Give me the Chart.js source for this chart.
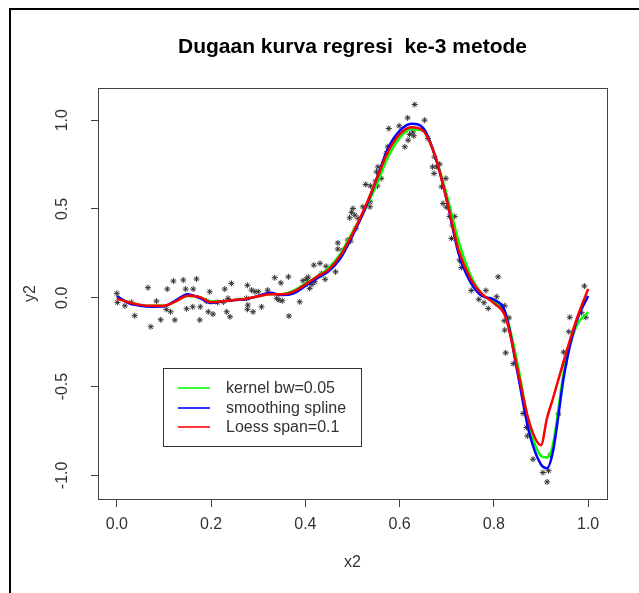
<!DOCTYPE html>
<html><head><meta charset="utf-8">
<script src="https://cdn.jsdelivr.net/npm/chart.js@4"></script>
<style>
html,body{margin:0;padding:0;background:#fff;}
#wrap{position:relative;width:639px;height:593px;overflow:hidden;background:#fff;}
#frame{position:absolute;left:9px;top:8px;width:700px;height:700px;border-left:2px solid #000;border-top:2px solid #000;}
canvas{position:absolute;left:0;top:0;}
</style></head><body>
<div id="wrap"><div id="frame"></div><canvas id="c" width="639" height="593"></canvas></div>
<script>
const titleText = 'Dugaan kurva regresi  ke-3 metode';
const xTicks = [0, 0.2, 0.4, 0.6, 0.8, 1.0];
const yTicks = [-1, -0.5, 0, 0.5, 1];
const xLabel = 'x2';
const yLabel = 'y2';
const legendLabels = ['kernel bw=0.05', 'smoothing spline', 'Loess span=0.1'];
const curveColors = ['#00ff00', '#0000ff', '#ff0000'];

const obsX = [0.0,0.001,0.017,0.031,0.038,0.066,0.072,0.084,0.093,0.107,0.105,0.114,0.120,0.123,0.141,0.146,0.148,0.162,0.161,0.169,
  0.176,0.177,0.190,0.197,0.194,0.204,0.214,0.229,0.226,0.233,0.243,0.240,0.236,0.277,0.286,0.293,0.300,0.275,0.278,0.277,
  0.289,0.307,0.320,0.335,0.348,0.364,0.339,0.344,0.351,0.365,0.388,0.395,0.402,0.406,0.409,0.414,0.420,0.418,0.431,0.434,
  0.442,0.444,0.464,0.469,0.490,0.496,0.469,0.480,0.507,0.494,0.498,0.501,0.505,0.512,0.522,0.537,0.537,0.528,0.538,0.553,
  0.549,0.561,0.551,0.554,0.572,0.575,0.577,0.599,0.611,0.618,0.621,0.628,0.630,0.617,0.632,0.653,0.660,0.674,0.670,0.679,
  0.673,0.685,0.698,0.689,0.692,0.699,0.706,0.717,0.712,0.710,0.727,0.731,0.731,0.752,0.768,0.783,0.779,0.788,0.809,0.806,
  0.823,0.832,0.822,0.823,0.825,0.841,0.862,0.869,0.871,0.883,0.904,0.916,0.913,0.920,0.937,0.950,0.948,0.959,0.961,0.986,
  0.992,0.995];
const obsY = [0.025,-0.026,-0.045,-0.026,-0.101,0.057,-0.163,-0.019,-0.124,0.049,-0.065,-0.079,0.094,-0.125,0.100,0.049,-0.062,0.049,-0.051,0.106,
  -0.125,-0.051,-0.019,0.034,-0.079,-0.092,-0.026,0.049,-0.024,-0.079,0.081,-0.107,-0.003,0.070,0.043,0.034,0.034,-0.003,-0.041,-0.065,
  -0.079,-0.051,0.043,0.113,0.084,0.118,-0.003,-0.013,-0.017,-0.103,-0.023,0.096,0.104,0.116,0.053,0.075,0.090,0.184,0.194,0.135,
  0.104,0.177,0.146,0.309,0.325,0.319,0.274,0.268,0.391,0.450,0.481,0.503,0.465,0.447,0.512,0.512,0.540,0.638,0.630,0.630,
  0.657,0.672,0.709,0.737,0.813,0.850,0.953,0.968,0.850,0.887,0.920,0.934,0.912,1.013,1.088,1.000,0.897,0.793,0.737,0.737,
  0.700,0.752,0.672,0.625,0.531,0.510,0.458,0.458,0.409,0.334,0.212,0.201,0.170,0.041,-0.009,0.041,-0.028,-0.060,0.118,0.006,
  -0.045,-0.113,-0.129,-0.182,-0.310,-0.371,-0.651,-0.730,-0.778,-0.909,-0.984,-0.974,-1.037,-0.885,-0.654,-0.375,-0.306,-0.191,-0.110,-0.084,
  0.066,-0.110];

const curveX = [0,0.025,0.05,0.075,0.1,0.125,0.15,0.175,0.2,0.225,0.25,0.275,0.3,0.325,0.35,0.375,0.4,0.425,0.45,0.475,
  0.5,0.525,0.55,0.575,0.6,0.625,0.65,0.675,0.7,0.725,0.75,0.775,0.8,0.825,0.85,0.875,0.9,0.9125,0.925,0.95,0.975,1.0];
const kernelY = [0.0,-0.025,-0.04,-0.045,-0.045,-0.02,0.01,0.005,-0.02,-0.02,-0.012,-0.006,0.008,0.02,0.02,0.04,0.08,0.12,0.17,0.25,
  0.37,0.49,0.63,0.79,0.90,0.95,0.94,0.80,0.58,0.32,0.13,0.02,-0.02,-0.09,-0.37,-0.72,-0.89,-0.90,-0.83,-0.39,-0.16,-0.08];
const splineY = [0.01,-0.03,-0.045,-0.05,-0.048,-0.015,0.02,0.0,-0.03,-0.02,-0.013,-0.008,0.01,0.028,0.015,0.025,0.066,0.11,0.15,0.225,
  0.35,0.49,0.66,0.84,0.94,0.98,0.955,0.80,0.55,0.25,0.09,0.01,-0.01,-0.09,-0.42,-0.76,-0.94,-0.96,-0.87,-0.42,-0.135,0.01];
const loessY = [-0.005,-0.025,-0.04,-0.045,-0.045,-0.02,0.012,0.005,-0.025,-0.02,-0.012,-0.005,0.008,0.02,0.02,0.035,0.075,0.12,0.16,0.24,
  0.36,0.50,0.66,0.82,0.92,0.96,0.94,0.80,0.55,0.27,0.11,0.02,-0.03,-0.11,-0.40,-0.70,-0.83,-0.68,-0.57,-0.34,-0.125,0.05];

const legendAt = [0.0975, -0.395];

const pts = (xs, ys) => xs.map((x, i) => ({x, y: ys[i]}));
const FONT = "'Liberation Sans', Arial, sans-serif";

const framePlugin = {
  id: 'frameAndLabels',
  afterDraw(chart) {
    const {ctx, chartArea: a, scales} = chart;
    ctx.save();
    ctx.strokeStyle = '#444';
    ctx.lineWidth = 1;
    ctx.strokeRect(Math.round(a.left) + 0.5, Math.round(a.top) + 0.5, Math.round(a.right - a.left), Math.round(a.bottom - a.top));
    ctx.fillStyle = '#333';
    ctx.font = '16px ' + FONT;
    ctx.textAlign = 'center';
    ctx.textBaseline = 'middle';
    yTicks.forEach(v => {
      const py = scales.y.getPixelForValue(v);
      ctx.save();
      ctx.translate(63, py);
      ctx.rotate(-Math.PI / 2);
      ctx.fillText(v.toFixed(1), 0, 0);
      ctx.restore();
    });
    const L = Math.round(scales.x.getPixelForValue(legendAt[0]));
    const T = Math.round(scales.y.getPixelForValue(legendAt[1]));
    ctx.strokeStyle = '#333';
    ctx.lineWidth = 1;
    ctx.strokeRect(L + 0.5, T + 0.5, 198, 78);
    ctx.textAlign = 'left';
    ctx.font = '16px ' + FONT;
    legendLabels.forEach((lab, k) => {
      const y = Math.round(T + 20 + k * 19.5);
      ctx.beginPath();
      ctx.strokeStyle = curveColors[k];
      ctx.lineWidth = 1.6;
      ctx.moveTo(L + 15, y);
      ctx.lineTo(L + 47, y);
      ctx.stroke();
      ctx.fillStyle = '#333';
      ctx.fillText(lab, L + 63, y + 1);
    });
    ctx.restore();
  }
};

new Chart(document.getElementById('c'), {
  type: 'scatter',
  data: {
    datasets: [
      {label: 'data', data: pts(obsX, obsY), pointStyle: 'star', pointRadius: 3, borderColor: '#333', backgroundColor: '#333', borderWidth: 1, order: 3},
      {label: legendLabels[0], data: pts(curveX, kernelY), showLine: true, pointRadius: 0, borderColor: curveColors[0], borderWidth: 2.5, cubicInterpolationMode: 'monotone', order: 2},
      {label: legendLabels[1], data: pts(curveX, splineY), showLine: true, pointRadius: 0, borderColor: curveColors[1], borderWidth: 2.5, cubicInterpolationMode: 'monotone', order: 1},
      {label: legendLabels[2], data: pts(curveX, loessY), showLine: true, pointRadius: 0, borderColor: curveColors[2], borderWidth: 2.5, cubicInterpolationMode: 'monotone', order: 0}
    ]
  },
  options: {
    responsive: false,
    devicePixelRatio: 1,
    animation: false,
    layout: {padding: {left: 0, right: 32, top: 0, bottom: 0}},
    plugins: {
      legend: {display: false},
      tooltip: {enabled: false},
      title: {display: true, text: titleText, fullSize: false, color: '#000',
        font: {family: FONT, size: 21, weight: 'bold'}, padding: {top: 35, bottom: 28}}
    },
    scales: {
      x: {
        type: 'linear', min: -0.04, max: 1.04,
        afterBuildTicks: s => { s.ticks = xTicks.map(v => ({value: v})); },
        afterFit: s => { s.height = 94; },
        grid: {drawOnChartArea: false, drawTicks: true, tickLength: 8, color: '#444'},
        border: {display: true, color: '#444'},
        ticks: {color: '#333', padding: 8, font: {family: FONT, size: 16}, callback: v => Number(v).toFixed(1), maxRotation: 0},
        title: {display: true, text: xLabel, color: '#333', font: {family: FONT, size: 16}, padding: {top: 0, bottom: 21}}
      },
      y: {
        type: 'linear', min: -1.133, max: 1.18,
        afterBuildTicks: s => { s.ticks = yTicks.map(v => ({value: v})); },
        afterFit: s => { s.width = 98; },
        grid: {drawOnChartArea: false, drawTicks: true, tickLength: 7, color: '#444'},
        border: {display: true, color: '#444'},
        ticks: {color: 'rgba(0,0,0,0)', font: {family: FONT, size: 16}, callback: v => Number(v).toFixed(1)},
        title: {display: true, text: yLabel, color: '#333', font: {family: FONT, size: 16}, padding: {top: 21, bottom: 0}}
      }
    }
  },
  plugins: [framePlugin]
});
</script>
</body></html>
